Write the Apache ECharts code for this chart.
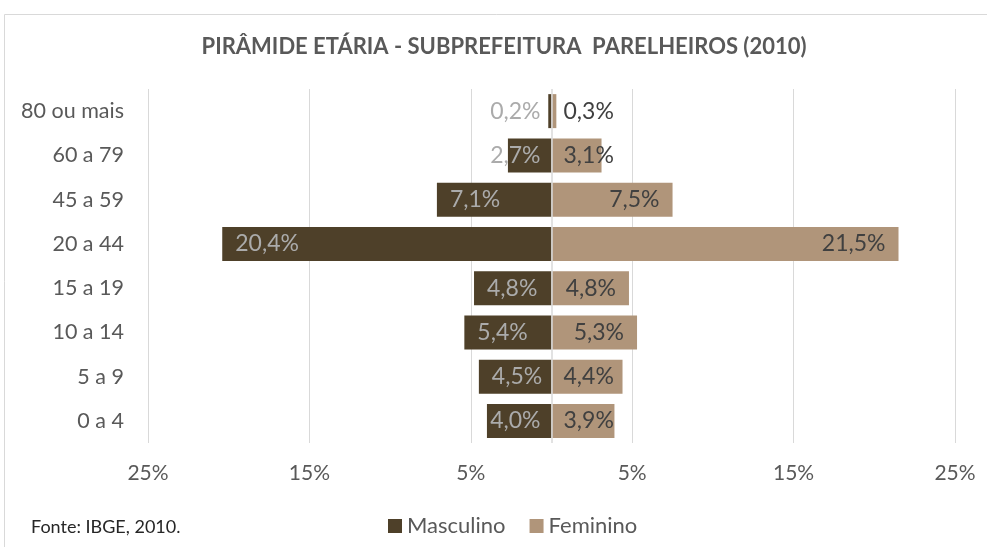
<!DOCTYPE html>
<html>
<head>
<meta charset="utf-8">
<script src="https://cdn.jsdelivr.net/npm/echarts@6/dist/echarts.min.js"></script>
<style>
  html, body { margin: 0; padding: 0; background: #fff; }
  #chart { width: 987px; height: 547px; }
</style>
</head>
<body>
<div id="chart"></div>
<script>
// faixas etarias, de baixo para cima
var faixas = ['0 a 4', '5 a 9', '10 a 14', '15 a 19', '20 a 44', '45 a 59', '60 a 79', '80 ou mais'];
var masculino = [4.0, 4.5, 5.4, 4.8, 20.4, 7.1, 2.7, 0.2];
var feminino = [3.9, 4.4, 5.3, 4.8, 21.5, 7.5, 3.1, 0.3];

var FONT = 'Lato';
var corMasc = '#4e4029';
var corFem = '#b0957a';

function pct(v) {
    return Math.abs(v).toFixed(1).replace('.', ',') + '%';
}

var myChart = echarts.init(document.getElementById('chart'));

myChart.setOption({
    animation: false,
    textStyle: { fontFamily: FONT },
    graphic: [
        {
            type: 'rect',
            silent: true,
            shape: { x: 4.5, y: 14.5, width: 1000, height: 600 },
            style: { fill: 'none', stroke: '#d9d9d9', lineWidth: 1 }
        },
        {
            type: 'text',
            silent: true,
            style: {
                text: 'PIRÂMIDE ETÁRIA - SUBPREFEITURA  PARELHEIROS (2010)',
                x: 504, y: 47,
                textAlign: 'center', textVerticalAlign: 'middle',
                font: 'bold 22px ' + FONT,
                fill: '#595959'
            }
        },
        {
            type: 'text',
            silent: true,
            style: {
                text: 'Fonte: IBGE, 2010.',
                x: 31, y: 527,
                textVerticalAlign: 'middle',
                font: '18px ' + FONT,
                fill: '#262626'
            }
        }
    ],
    legend: {
        left: 383,
        top: 510,
        icon: 'rect',
        itemWidth: 14,
        itemHeight: 14,
        itemGap: 24,
        textStyle: { color: '#595959', fontSize: 22, fontFamily: FONT },
        data: ['Masculino', 'Feminino']
    },
    grid: {
        left: 148,
        right: 32,
        top: 89,
        bottom: 104,
        outerBoundsMode: 'none'
    },
    xAxis: {
        type: 'value',
        min: -25,
        max: 25,
        interval: 5,
        axisLine: { show: false },
        axisTick: { show: false },
        axisLabel: {
            margin: 20,
            color: '#595959',
            fontSize: 21,
            fontFamily: FONT,
            formatter: function (v) {
                return Math.round(Math.abs(v)) % 10 === 5 ? Math.abs(v) + '%' : '';
            }
        },
        splitLine: {
            show: true,
            lineStyle: { color: ['#d9d9d9', 'rgba(0,0,0,0)'], width: 1 }
        }
    },
    yAxis: {
        type: 'category',
        data: faixas,
        axisLine: { show: false },
        axisTick: { show: false },
        axisLabel: {
            margin: 24,
            color: '#595959',
            fontSize: 21.5,
            fontFamily: FONT
        }
    },
    series: [
        {
            name: 'Masculino',
            type: 'bar',
            barWidth: 34,
            barGap: '-100%',
            itemStyle: { color: corMasc },
            label: {
                show: true,
                color: '#ababab',
                fontSize: 23,
                fontFamily: FONT,
                formatter: function (p) { return pct(p.value); }
            },
            data: masculino.map(function (v) {
                return {
                    value: -v,
                    label: v < 4.3 ? { position: 'insideRight', distance: 11 } : { position: 'insideLeft', distance: 13 }
                };
            })
        },
        {
            name: 'Feminino',
            type: 'bar',
            barWidth: 34,
            barGap: '-100%',
            itemStyle: { color: corFem },
            label: {
                show: true,
                color: '#404040',
                fontSize: 23,
                fontFamily: FONT,
                formatter: function (p) { return pct(p.value); }
            },
            data: feminino.map(function (v) {
                return {
                    value: v,
                    label: v < 4.6 ? { position: 'insideLeft', distance: 12 } : { position: 'insideRight', distance: 13 }
                };
            }),
            markLine: {
                silent: true,
                symbol: 'none',
                z: 5,
                label: { show: false },
                lineStyle: { color: '#d9d9d9', type: 'solid', width: 1.5 },
                data: [{ xAxis: 0 }]
            }
        }
    ]
});
</script>
</body>
</html>
